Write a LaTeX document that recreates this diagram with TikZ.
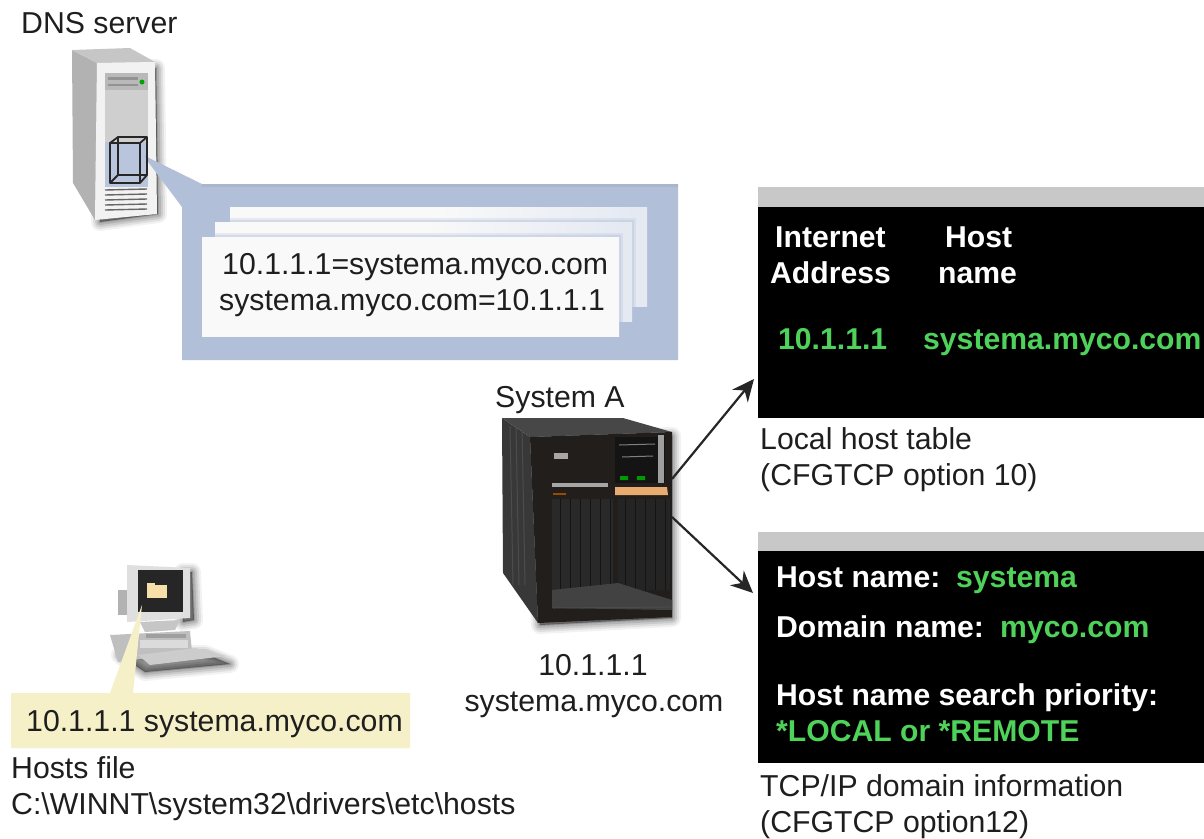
\documentclass[tikz,border=0pt]{standalone}
\usepackage{fontspec}
\setmainfont{Liberation Sans}
\usetikzlibrary{arrows.meta}
\definecolor{ink}{HTML}{1E1E1E}
\definecolor{callblue}{HTML}{B1BFD9}
\definecolor{scrgreen}{HTML}{4FD25A}
\definecolor{bargray}{HTML}{C8C8C8}
\definecolor{hostyellow}{HTML}{F6F0C8}
\definecolor{caseblack}{HTML}{211E1C}
\definecolor{pagewhite}{HTML}{F9F9F9}
\tikzset{
 lbl/.style={anchor=base west,inner sep=0pt,text=ink,font=\fontsize{30.25}{36}\selectfont},
 lblc/.style={lbl,anchor=base},
 wb/.style={lbl,text=white,font=\fontsize{30.15}{36}\selectfont\bfseries},
 gb/.style={wb,text=scrgreen},
 screen/.style={anchor=north west,inner sep=0pt,fill=black,minimum width=446pt,minimum height=211pt},
 titlebar/.style={anchor=north west,inner sep=0pt,fill=bargray,minimum width=446pt,minimum height=20pt},
 arrowline/.style={line width=2.2pt,black!85,-{Stealth[length=22pt,width=20pt]}},
 page/.style={anchor=north west,inner sep=0pt,minimum width=417pt,minimum height=99pt,left color=pagewhite,right color=callblue!35!white,middle color=pagewhite},
}
\newcommand{\softshade}[1]{%
 \foreach \w/\o in {18/.05,14/.07,10/.09,6/.11,2/.14}{\path[draw=black,fill=black,line join=round,line width=\w pt,opacity=\o] #1;}}
\begin{document}
\begin{tikzpicture}[x=1pt,y=-1pt]
\useasboundingbox[fill=white] (0,0) rectangle (1204,838);
% ---------- DNS server
\softshade{(100,68) -- (156,68) -- (158,214) -- (100,222) -- cycle}
\fill[gray!60!white] (72,50) -- (97,63) -- (95,220) -- (73,183) -- cycle;
\fill[gray!45!white] (72,50) -- (130,48) -- (155,62) -- (97,63) -- cycle;
\fill[gray!10!white] (97,63) -- (155,62) -- (157,214) -- (95,220) -- cycle;
\fill[gray!55!white] (105,73) rectangle (148,90);
\fill[gray!85!white] (108,77) rectangle (138,80);
\fill[gray!85!white] (108,84) rectangle (138,86);
\fill[green!65!black] (142,82) circle (2.5);
\fill[gray!38!white] (105,90) rectangle (148,142);
\fill[callblue!90!white] (105,142) rectangle (148,187);
\foreach \yy in {190,195,200,205,210}{\draw[gray!80!black,line width=1.4pt] (105,\yy) -- (147,\yy-1);}
% callout
\fill[callblue] (143,155) -- (202,184) -- (678,184) -- (678,360) -- (182,360) -- (182,207) -- cycle;
\fill[callblue!85!gray] (202,184) rectangle (678,187);
\begin{scope}[draw=gray!30!black,line width=1.8pt,line join=round]
 \draw (110,143) rectangle (140,183);
 \draw (118,137) rectangle (147,175);
 \draw (110,143) -- (118,137) (140,143) -- (147,137) (110,183) -- (118,175) (140,183) -- (147,175);
\end{scope}
\node[page] (pageC) at (230,207) {};
\foreach \d/\o in {4/.25,2/.35}{\fill[callblue,opacity=\o] (215,222-\d) rectangle (632+\d,321);}
\node[page] (pageB) at (215,222) {};
\foreach \d/\o in {4/.25,2/.35}{\fill[callblue,opacity=\o] (202,237-\d) rectangle (619+\d,336);}
\node[page,left color=pagewhite,right color=pagewhite,middle color=pagewhite] (pageA) at (202,237) {};
\node[lbl] (dnslabel) at (21,33) {DNS server};
\node[lbl] (map1) at (222,274) {10.1.1.1=systema.myco.com};
\node[lbl] (map2) at (219,310) {systema.myco.com=10.1.1.1};
% ---------- System A
\softshade{(534,440) -- (672,436) -- (672,618) -- (540,625) -- cycle}
\fill[black!78!white] (502,418) -- (530,437) -- (538,623) -- (503,573) -- cycle;
\foreach \xx in {510,516,522}{\draw[black!70!white,line width=1pt] (\xx,426) -- (\xx+3,585);}
\fill[black!72!white] (502,418) -- (623,418) -- (672,432) -- (530,437) -- cycle;
\fill[caseblack] (530,437) -- (672,432) -- (672,617) -- (538,623) -- cycle;
\fill[black!92!white] (615,437) rectangle (665,483);
\fill[gray!75!white] (658,435) rectangle (664,483);
\draw[gray,line width=1pt] (619,445) -- (655,444) (622,457) -- (653,456);
\fill[green!60!black] (620,476) rectangle (628,480) (637,476) rectangle (645,480);
\fill[orange!45!brown!65!white] (615,487) -- (667,487) -- (668,495) -- (615,495) -- cycle;
\fill[gray!70!white] (552,483) rectangle (608,487);
\fill[gray!70!white] (554,453) rectangle (568,459);
\fill[orange!60!black] (553,493) rectangle (566,495);
\fill[black!84!white] (552,499) rectangle (613,590);
\fill[black!86!white] (618,499) rectangle (670,590);
\foreach \xx in {560,570,...,610,625,635,...,665}{\draw[black!92!white,line width=.8pt] (\xx,499) -- (\xx,590);}
\fill[black!74!white] (552,590) -- (618,583) -- (672,600) -- (672,610) -- (552,608) -- cycle;
\draw[gray!60!black,line width=1pt] (553,608) -- (671,607);
\node[lbl] (sysalabel) at (495,407) {System A};
\node[lblc] (sysip) at (593,675) {10.1.1.1};
\node[lblc] (sysname) at (594,711) {systema.myco.com};
% ---------- PC
\softshade{(183,572) -- (192,572) -- (194,620) -- (183,622) -- cycle}
\softshade{(120,655) -- (205,654) -- (230,664) -- (145,672) -- cycle}
\fill[gray!60!white] (118,590) rectangle (130,615);
\fill[gray!50!white] (110,635) -- (190,631) -- (192,652) -- (118,662) -- cycle;
\fill[gray!28!white] (140,640) rectangle (188,648);
\fill[gray!75!white] (146,634) rectangle (186,638);
\fill[gray!40!white] (138,655) -- (195,648) -- (226,656) -- (150,665) -- cycle;
\fill[gray!25!white] (127,565) -- (190,568) -- (190,618) -- (127,622) -- cycle;
\fill[gray!45!white] (140,622) -- (180,620) -- (175,630) -- (145,632) -- cycle;
\fill[black!85!white] (138,570) rectangle (183,612);
\fill[hostyellow!85!orange] (147,585) rectangle (167,598);
\fill[hostyellow!85!orange] (147,583) rectangle (155,586);
% yellow callout
\fill[hostyellow] (142,605) -- (110,693) -- (11,693) -- (11,748) -- (410,748) -- (410,693) -- (133,693) -- cycle;
\node[lbl] (hostsline) at (26,731) {10.1.1.1 systema.myco.com};
\node[lbl] (hostfile) at (11,778) {Hosts file};
\node[lbl] (hostpath) at (11,814) {C:\textbackslash WINNT\textbackslash system32\textbackslash drivers\textbackslash etc\textbackslash hosts};
% ---------- Screens
\node[titlebar] (barA) at (758,187) {};
\node[screen,minimum height=211pt] (scrA) at (758,207) {};
\node[titlebar,minimum height=19pt] (barB) at (758,532) {};
\node[screen,minimum height=212pt] (scrB) at (758,551) {};
\node[wb] (t1) at (775,247) {Internet};
\node[wb] (t2) at (945,247) {Host};
\node[wb] (t3) at (770,283) {Address};
\node[wb] (t4) at (938,283) {name};
\node[gb] (t5) at (778,349) {10.1.1.1};
\node[gb] (t6) at (923,349) {systema.myco.com};
\node[lbl] (c1) at (760,449) {Local host table};
\node[lbl] (c2) at (760,485) {(CFGTCP option 10)};
\node[wb] (u1) at (776,587) {Host name:};
\node[gb] (u2) at (956,587) {systema};
\node[wb] (u3) at (776,637) {Domain name:};
\node[gb] (u4) at (1000,637) {myco.com};
\node[wb] (u5) at (776,705) {Host name search priority:};
\node[gb] (u6) at (776,741) {*LOCAL or *REMOTE};
\node[lbl] (c3) at (760,796) {TCP/IP domain information};
\node[lbl] (c4) at (760,832) {(CFGTCP option12)};
% ---------- Arrows
\coordinate (sysOutA) at (672,479);
\coordinate (sysOutB) at (672,517);
\coordinate (scrInA) at (754,379);
\coordinate (scrInB) at (753,593);
\draw[arrowline] (sysOutA) -- (scrInA);
\draw[arrowline] (sysOutB) -- (scrInB);
\end{tikzpicture}
\end{document}
